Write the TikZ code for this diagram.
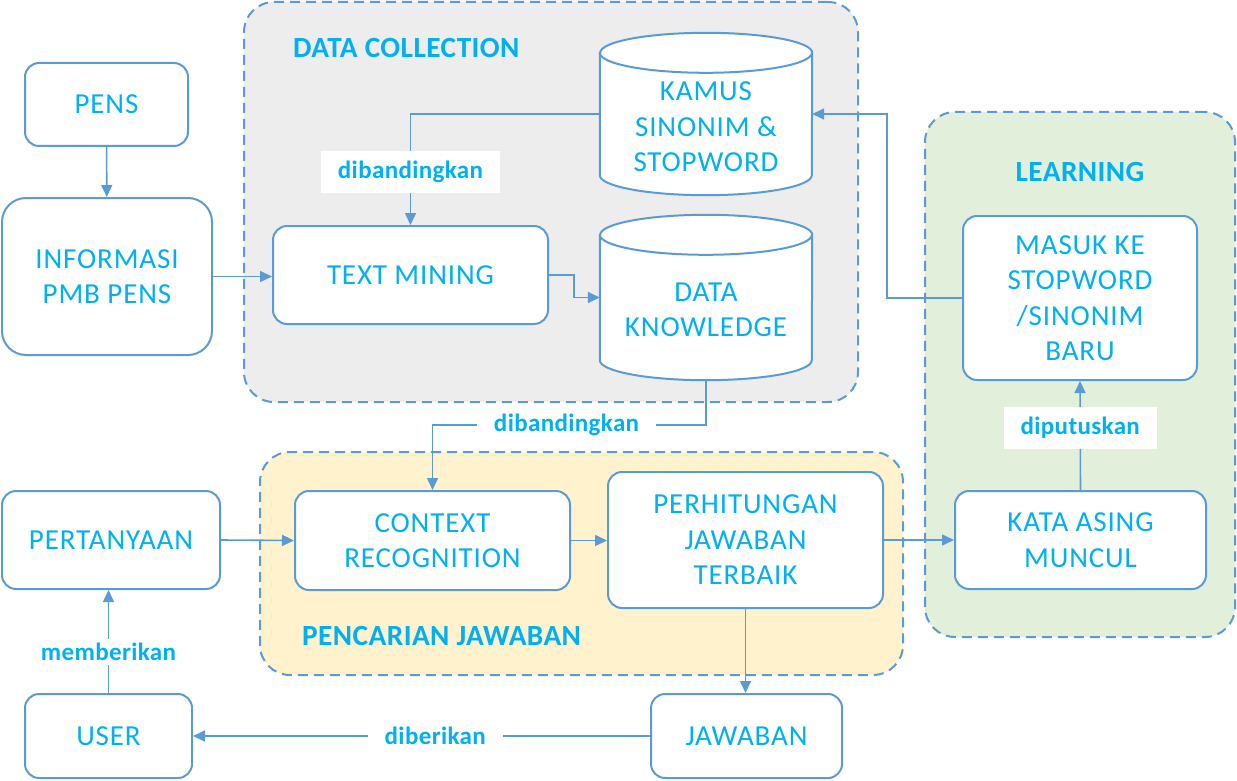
\documentclass[tikz,border=0pt]{standalone}
\usepackage{fontspec}
\setmainfont{Carlito}
\newfontfamily\boxfont[LetterSpace=3]{Carlito}
\newfontfamily\lblfont[LetterSpace=1.5]{Carlito}
\usetikzlibrary{arrows.meta,calc}
\definecolor{lblue}{HTML}{5B9BD5}
\definecolor{tcyan}{HTML}{00B0F0}
\definecolor{ggray}{HTML}{EDEDED}
\definecolor{gyellow}{HTML}{FFF2CC}
\definecolor{ggreen}{HTML}{E2EFDA}
\newcommand\drawcyl[1]{%
  \draw[lblue,line width=2pt,fill=white] ([yshift=-20pt]#1.north west) -- ([yshift=20pt]#1.south west)
    arc[start angle=180,end angle=360,x radius=106pt,y radius=20pt]
    -- ([yshift=-20pt]#1.north east)
    arc[start angle=0,end angle=180,x radius=106pt,y radius=20pt] -- cycle;
  \draw[lblue,line width=2pt] ([yshift=-20pt]#1.north west)
    arc[start angle=180,end angle=360,x radius=106pt,y radius=20pt];}
\begin{document}
\begin{tikzpicture}[x=1pt,y=-1pt,
  box/.style={draw=lblue, line width=2pt, fill=white, rounded corners=14pt, align=center, text=tcyan, font=\boxfont\fontsize{29}{35.5}\selectfont, inner sep=0pt},
  grp/.style={draw=lblue, line width=2pt, dash pattern=on 10pt off 6pt, rounded corners=30pt, inner sep=0pt},
  conn/.style={draw=lblue, line width=1.6pt, -{Triangle[length=12pt,width=11pt]}},
  lbl/.style={fill=white, text=tcyan, font=\lblfont\bfseries\fontsize{25}{28}\selectfont, inner xsep=17pt, inner ysep=10pt},
  head/.style={text=tcyan, font=\lblfont\bfseries\fontsize{29.3}{32}\selectfont, inner sep=0pt},
  cylbox/.style={minimum width=212pt, inner sep=0pt},
  cyltext/.style={align=center, text=tcyan, font=\boxfont\fontsize{29}{35.5}\selectfont, inner sep=0pt},
]
\useasboundingbox (0,0) rectangle (1237,781);

% groups
\node[grp, fill=ggray, minimum width=614pt, minimum height=400pt] (datacoll) at (551,202) {};
\node[grp, fill=ggreen, minimum width=310pt, minimum height=525pt] (learning) at (1080,374.5) {};
\node[grp, fill=gyellow, minimum width=643pt, minimum height=223pt] (pencarian) at (581.5,563.5) {};

\node[head, anchor=west] (hdc) at (293,48) {DATA COLLECTION};
\node[head] (hlearn) at (1080,172) {LEARNING};
\node[head, anchor=west] (hpj) at (302,636) {PENCARIAN JAWABAN};

% boxes
\node[box, minimum width=163pt, minimum height=83pt] (pens) at (106.5,104.5) {PENS};
\node[box, rounded corners=24pt, minimum width=210pt, minimum height=157pt] (info) at (107,276.5) {INFORMASI\\PMB PENS};
\node[box, minimum width=275pt, minimum height=98pt] (tm) at (410.5,275) {TEXT MINING};

\node[cylbox, minimum height=162pt] (kamus) at (706,114) {};
\drawcyl{kamus}
\node[cyltext] (kamust) at (706,127) {KAMUS\\SINONIM \&\\STOPWORD};

\node[cylbox, minimum height=165pt] (dk) at (706,297.5) {};
\drawcyl{dk}
\node[cyltext] (dkt) at (706,310) {DATA\\KNOWLEDGE};

\node[box, minimum width=234pt, minimum height=164pt] (masuk) at (1080,298) {MASUK KE\\STOPWORD\\/SINONIM\\BARU};
\node[box, minimum width=251pt, minimum height=98pt] (kata) at (1080.5,540) {KATA ASING\\MUNCUL};

\node[box, minimum width=218pt, minimum height=98pt] (tanya) at (111,540) {PERTANYAAN};
\node[box, minimum width=275pt, minimum height=99pt] (ctx) at (432.5,540.5) {CONTEXT\\RECOGNITION};
\node[box, minimum width=275pt, minimum height=136pt] (hitung) at (745.5,540) {PERHITUNGAN\\JAWABAN\\TERBAIK};
\node[box, minimum width=191pt, minimum height=84pt] (jawab) at (746.5,736) {JAWABAN};
\node[box, minimum width=167pt, minimum height=84pt] (user) at (108.5,736) {USER};

% connectors
\draw[conn] (pens) -- (info);
\draw[conn] (info.east) -- (info.east -| tm.west);
\draw[conn] (tm.east) -- ++(25,0) |- (dk.west);
\draw[conn] (kamus.west) -| node[lbl, pos=0.76] (lb1) {dibandingkan} (tm.north);
\coordinate (bend) at (887,114);
\draw[conn] (masuk.west) -| (bend) -- (kamus.east);
\coordinate (dkc) at (706,425);
\draw[conn] (dk.south) -- (dkc) -- node[lbl, pos=0.51, inner ysep=4pt] (lb2) {dibandingkan} (dkc -| ctx.north) -- (ctx.north);
\draw[conn] (tanya.east) -- (ctx.west);
\draw[conn] (ctx.east) -- (ctx.east -| hitung.west);
\draw[conn] (hitung.east) -- (hitung.east -| kata.west);
\draw[conn] (hitung.south) -- (hitung.south |- jawab.north);
\draw[conn] (jawab.west) -- node[lbl, pos=0.47, inner ysep=4pt] (lb3) {diberikan} (jawab.west -| user.east);
\draw[conn] (user.north) -- node[lbl, pos=0.4, inner ysep=4pt] (lb4) {memberikan} (user.north |- tanya.south);
\draw[conn] (kata.north) -- node[lbl, pos=0.57] (lb5) {diputuskan} (masuk.south);
\end{tikzpicture}
\end{document}
